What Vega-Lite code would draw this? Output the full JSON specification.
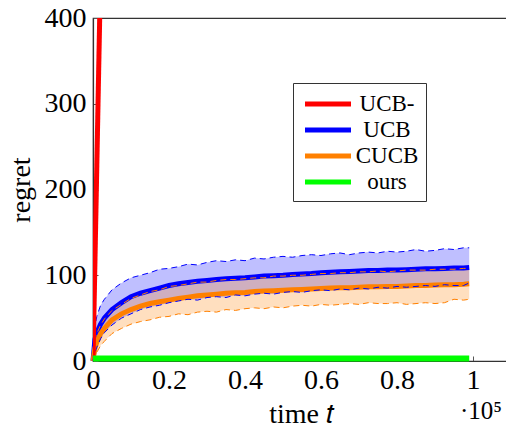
{
"$schema": "https://vega.github.io/schema/vega-lite/v6.json",
"width": 416, "height": 343,
"autosize": {"type": "none"},
"padding": {"left": 93, "top": 18, "right": 0, "bottom": 66},
"background": "white",
"config": {
  "font": "Liberation Serif",
  "view": {"stroke": "#333", "strokeWidth": 1.2},
  "axis": {"grid": false, "domainColor": "#333", "domainWidth": 1.2, "tickColor": "#555", "labelColor": "black", "titleColor": "black", "labelFont": "Liberation Serif", "titleFont": "Liberation Serif", "labelFontSize": 28, "titleFontSize": 28, "titleFontWeight": "normal", "labelFlush": false, "labelOverlap": false, "labelBound": false},
  "legend": {"labelFont": "Liberation Serif"}
},
"title": {"text": "·10⁵", "orient": "bottom", "anchor": "end", "fontSize": 25, "font": "Liberation Serif", "fontWeight": "normal", "color": "black", "offset": -29, "dx": -7},
"data": {"values": [
{"t":0,"s":"UCB-","m":0},{"t":99000,"s":"UCB-","m":22500},
{"t":0,"s":"ours","m":3},{"t":99000,"s":"ours","m":3},
{"t":0,"s":"UCB","m":0,"lo":0,"hi":0},
{"t":500,"s":"UCB","m":25,"lo":10,"hi":40},
{"t":1000,"s":"UCB","m":33,"lo":16,"hi":52},
{"t":2000,"s":"UCB","m":43,"lo":26,"hi":65},
{"t":3000,"s":"UCB","m":50,"lo":33,"hi":72},
{"t":5000,"s":"UCB","m":60,"lo":42,"hi":83},
{"t":7500,"s":"UCB","m":68,"lo":50,"hi":91},
{"t":10000,"s":"UCB","m":75,"lo":55,"hi":97},
{"t":12500,"s":"UCB","m":79,"lo":60,"hi":100},
{"t":15000,"s":"UCB","m":82,"lo":63,"hi":103},
{"t":17500,"s":"UCB","m":85,"lo":65,"hi":107},
{"t":20000,"s":"UCB","m":88,"lo":68,"hi":108},
{"t":22500,"s":"UCB","m":90,"lo":70,"hi":110},
{"t":25000,"s":"UCB","m":91.5,"lo":72,"hi":113},
{"t":27500,"s":"UCB","m":93,"lo":71,"hi":112},
{"t":30000,"s":"UCB","m":94,"lo":74,"hi":115},
{"t":32500,"s":"UCB","m":95,"lo":75,"hi":117},
{"t":35000,"s":"UCB","m":96,"lo":74,"hi":116},
{"t":37500,"s":"UCB","m":96.5,"lo":77,"hi":118},
{"t":40000,"s":"UCB","m":97,"lo":76,"hi":117},
{"t":42500,"s":"UCB","m":98,"lo":78,"hi":120},
{"t":45000,"s":"UCB","m":99,"lo":79,"hi":119},
{"t":47500,"s":"UCB","m":99.5,"lo":78,"hi":121},
{"t":50000,"s":"UCB","m":100,"lo":80,"hi":122},
{"t":52500,"s":"UCB","m":101,"lo":81,"hi":121},
{"t":55000,"s":"UCB","m":101.5,"lo":80,"hi":123},
{"t":57500,"s":"UCB","m":102,"lo":82,"hi":124},
{"t":60000,"s":"UCB","m":103,"lo":83,"hi":123},
{"t":62500,"s":"UCB","m":103.5,"lo":82,"hi":125},
{"t":65000,"s":"UCB","m":104,"lo":84,"hi":126},
{"t":67500,"s":"UCB","m":104.5,"lo":83,"hi":124},
{"t":70000,"s":"UCB","m":105,"lo":85,"hi":126},
{"t":72500,"s":"UCB","m":105.5,"lo":84,"hi":127},
{"t":75000,"s":"UCB","m":105.5,"lo":86,"hi":126},
{"t":77500,"s":"UCB","m":106,"lo":85,"hi":128},
{"t":80000,"s":"UCB","m":106,"lo":87,"hi":127},
{"t":82500,"s":"UCB","m":106.5,"lo":86,"hi":128},
{"t":85000,"s":"UCB","m":107,"lo":87,"hi":130},
{"t":87500,"s":"UCB","m":107.5,"lo":88,"hi":128},
{"t":90000,"s":"UCB","m":107.5,"lo":87,"hi":129},
{"t":92500,"s":"UCB","m":108,"lo":89,"hi":131},
{"t":95000,"s":"UCB","m":108.5,"lo":88,"hi":130},
{"t":97500,"s":"UCB","m":108.5,"lo":88,"hi":132},
{"t":99000,"s":"UCB","m":109,"lo":91,"hi":132},
{"t":0,"s":"CUCB","m":0,"lo":0,"hi":0},
{"t":500,"s":"CUCB","m":15,"lo":5,"hi":25},
{"t":1000,"s":"CUCB","m":22,"lo":10,"hi":32},
{"t":2000,"s":"CUCB","m":32,"lo":18,"hi":42},
{"t":3000,"s":"CUCB","m":38,"lo":23,"hi":49},
{"t":5000,"s":"CUCB","m":48,"lo":32,"hi":59},
{"t":7500,"s":"CUCB","m":55,"lo":38,"hi":66},
{"t":10000,"s":"CUCB","m":60,"lo":43,"hi":73},
{"t":12500,"s":"CUCB","m":64,"lo":46,"hi":77},
{"t":15000,"s":"CUCB","m":67,"lo":48,"hi":81},
{"t":17500,"s":"CUCB","m":69,"lo":51,"hi":83},
{"t":20000,"s":"CUCB","m":71,"lo":52,"hi":87},
{"t":22500,"s":"CUCB","m":73,"lo":55,"hi":88},
{"t":25000,"s":"CUCB","m":74.5,"lo":54,"hi":90},
{"t":27500,"s":"CUCB","m":76,"lo":57,"hi":92},
{"t":30000,"s":"CUCB","m":77,"lo":58,"hi":92},
{"t":32500,"s":"CUCB","m":78,"lo":57,"hi":94},
{"t":35000,"s":"CUCB","m":79,"lo":60,"hi":95},
{"t":37500,"s":"CUCB","m":79.5,"lo":59,"hi":95},
{"t":40000,"s":"CUCB","m":80,"lo":61,"hi":96},
{"t":42500,"s":"CUCB","m":81,"lo":62,"hi":97},
{"t":45000,"s":"CUCB","m":81.5,"lo":61,"hi":97},
{"t":47500,"s":"CUCB","m":82,"lo":63,"hi":99},
{"t":50000,"s":"CUCB","m":82.5,"lo":62,"hi":99},
{"t":52500,"s":"CUCB","m":83,"lo":64,"hi":100},
{"t":55000,"s":"CUCB","m":83.5,"lo":65,"hi":100},
{"t":57500,"s":"CUCB","m":84,"lo":64,"hi":101},
{"t":60000,"s":"CUCB","m":84.5,"lo":66,"hi":102},
{"t":62500,"s":"CUCB","m":85,"lo":65,"hi":102},
{"t":65000,"s":"CUCB","m":85.5,"lo":66,"hi":103},
{"t":67500,"s":"CUCB","m":85.5,"lo":67,"hi":103},
{"t":70000,"s":"CUCB","m":86,"lo":66,"hi":104},
{"t":72500,"s":"CUCB","m":86.5,"lo":68,"hi":104},
{"t":75000,"s":"CUCB","m":86.5,"lo":67,"hi":105},
{"t":77500,"s":"CUCB","m":87,"lo":67,"hi":104},
{"t":80000,"s":"CUCB","m":87,"lo":68,"hi":105},
{"t":82500,"s":"CUCB","m":87.5,"lo":66,"hi":106},
{"t":85000,"s":"CUCB","m":88,"lo":67,"hi":106},
{"t":87500,"s":"CUCB","m":88,"lo":68,"hi":106},
{"t":90000,"s":"CUCB","m":88.5,"lo":67,"hi":107},
{"t":92500,"s":"CUCB","m":89,"lo":68,"hi":107},
{"t":95000,"s":"CUCB","m":89,"lo":72,"hi":107},
{"t":97500,"s":"CUCB","m":89.5,"lo":71,"hi":108},
{"t":99000,"s":"CUCB","m":90,"lo":72,"hi":108}
]},
"encoding": {
  "x": {"field": "t", "type": "quantitative",
        "scale": {"domain": [0, 109470], "nice": false, "zero": false},
        "axis": {"values": [0, 20000, 40000, 60000, 80000, 100000], "labelExpr": "format(datum.value/100000, '~g')", "title": "time 𝑡", "tickSize": -5, "labelPadding": 10, "titlePadding": 6}}
},
"layer": [
  {"transform": [{"filter": "datum.s == 'UCB'"}],
   "mark": {"type": "area", "color": "#0000ff", "fillOpacity": 0.25},
   "encoding": {"y": {"field": "lo", "type": "quantitative", "scale": {"domain": [0, 400], "nice": false}, "axis": {"values": [0, 100, 200, 300, 400], "title": "regret", "tickSize": -5, "labelPadding": 12, "titlePadding": 9}}, "y2": {"field": "hi"}}},
  {"transform": [{"filter": "datum.s == 'CUCB'"}],
   "mark": {"type": "area", "color": "#ff8000", "fillOpacity": 0.25},
   "encoding": {"y": {"field": "lo", "type": "quantitative"}, "y2": {"field": "hi"}}},
  {"transform": [{"filter": "datum.s == 'UCB' || datum.s == 'CUCB'"}],
   "mark": {"type": "line", "strokeWidth": 5},
   "encoding": {"y": {"field": "m", "type": "quantitative"},
     "stroke": {"field": "s", "type": "nominal",
       "scale": {"domain": ["UCB-", "UCB", "CUCB", "ours"], "range": ["#ff0000", "#0000ff", "#ff8000", "#00ff00"]},
       "legend": {"title": null, "orient": "none", "legendX": 200, "legendY": 65, "padding": 7, "strokeColor": "#333", "fillColor": "white", "labelFontSize": 23, "labelColor": "black", "symbolType": "M-2,0L2,0", "symbolSize": 529, "symbolStrokeWidth": 5, "symbolOffset": 14, "labelOffset": 45, "labelAlign": "center", "rowPadding": 0, "symbolDash": [1, 0]}}}},
  {"transform": [{"filter": "datum.s == 'UCB' || datum.s == 'CUCB'"}],
   "mark": {"type": "line", "strokeWidth": 1, "strokeDash": [6, 4]},
   "encoding": {"y": {"field": "hi", "type": "quantitative"}, "stroke": {"field": "s", "type": "nominal"}}},
  {"transform": [{"filter": "datum.s == 'UCB' || datum.s == 'CUCB'"}],
   "mark": {"type": "line", "strokeWidth": 1, "strokeDash": [6, 4]},
   "encoding": {"y": {"field": "lo", "type": "quantitative"}, "stroke": {"field": "s", "type": "nominal"}}},
  {"transform": [{"filter": "datum.s == 'UCB-'"}],
   "mark": {"type": "line", "strokeWidth": 5, "clip": true},
   "encoding": {"y": {"field": "m", "type": "quantitative"}, "stroke": {"field": "s", "type": "nominal"}}},
  {"transform": [{"filter": "datum.s == 'ours'"}],
   "mark": {"type": "line", "strokeWidth": 6},
   "encoding": {"y": {"field": "m", "type": "quantitative"}, "stroke": {"field": "s", "type": "nominal"}}}
]
}
